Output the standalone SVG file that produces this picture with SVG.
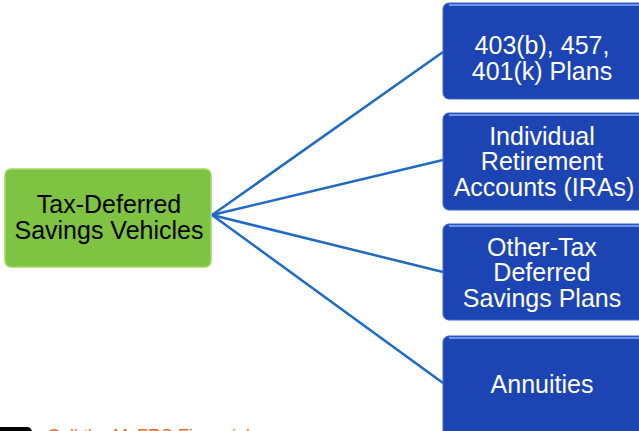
<svg xmlns="http://www.w3.org/2000/svg" width="639" height="431" viewBox="0 0 639 431">
<style>
.blue{fill:#1c44b3;stroke:#3a66d0;stroke-width:1}
.hl{fill:none;stroke:#6f94e6;stroke-width:2}
.t{font-family:"Liberation Sans",Arial,sans-serif;font-size:25px;text-anchor:middle}
.w{fill:#ffffff}
.k{fill:#000000}
.c{stroke:#1f6ac6;stroke-width:2.5;fill:none}
</style>
<rect width="639" height="431" fill="#ffffff"/>
<g id="connectors">
<line class="c" x1="212" y1="215" x2="443" y2="52"/>
<line class="c" x1="212" y1="215" x2="443" y2="160"/>
<line class="c" x1="212" y1="215" x2="443" y2="272"/>
<line class="c" x1="212" y1="215" x2="443" y2="383"/>
</g>
<g id="root">
<rect x="5" y="169" width="206" height="98" rx="6" fill="#7fc342" stroke="#a3d96b" stroke-width="1.5"/>
<text class="t k" x="109" y="213">Tax-Deferred</text>
<text class="t k" x="109" y="239">Savings Vehicles</text>
</g>
<g id="n1">
<rect class="blue" x="443" y="3" width="210" height="96" rx="6"/>
<path class="hl" d="M449 5 H639"/>
<text class="t w" x="542" y="54">403(b), 457,</text>
<text class="t w" x="542" y="80">401(k) Plans</text>
</g>
<g id="n2">
<rect class="blue" x="443" y="113" width="210" height="97" rx="6"/>
<path class="hl" d="M449 115 H639"/>
<text class="t w" x="542" y="145">Individual</text>
<text class="t w" x="542" y="170">Retirement</text>
<text class="t w" x="544" y="196">Accounts (IRAs)</text>
</g>
<g id="n3">
<rect class="blue" x="443" y="224" width="210" height="96" rx="6"/>
<path class="hl" d="M449 226 H639"/>
<text class="t w" x="542" y="256">Other-Tax</text>
<text class="t w" x="542" y="281">Deferred</text>
<text class="t w" x="542" y="307">Savings Plans</text>
</g>
<g id="n4">
<rect class="blue" x="443" y="336" width="210" height="110" rx="6"/>
<path class="hl" d="M449 338 H639"/>
<text class="t w" x="542" y="393">Annuities</text>
</g>
<g id="footer">
<rect x="-6" y="427" width="38" height="20" rx="5" fill="#000000"/>
<text x="47" y="442" font-family="Liberation Sans,Arial,sans-serif" font-size="18" fill="#f26a21">Call the MyFRS Financial</text>
</g>
</svg>
